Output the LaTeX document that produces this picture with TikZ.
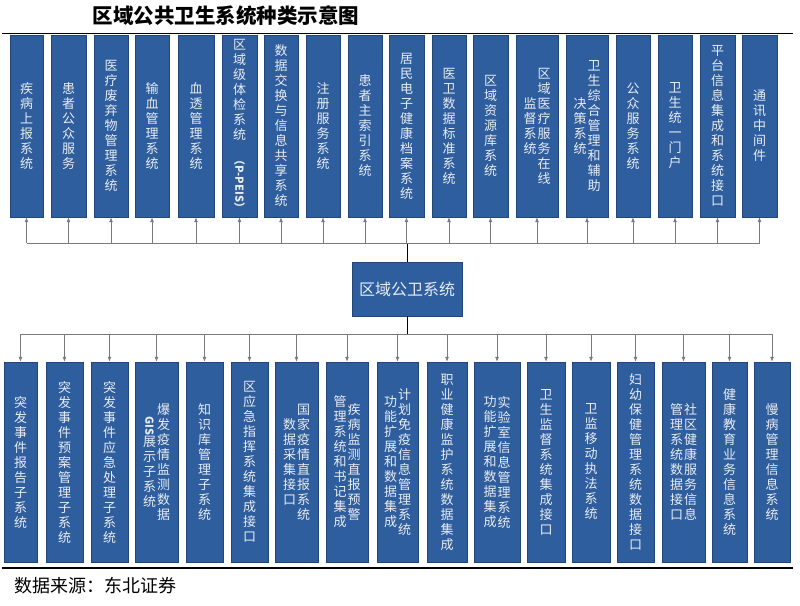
\documentclass[tikz,border=0pt]{standalone}
\usepackage{fontspec}
\setmainfont{Noto Sans CJK SC}
\usepackage{graphicx}
\usetikzlibrary{arrows.meta}

\definecolor{boxblue}{HTML}{2F5E9E}
\definecolor{boxedge}{HTML}{22467A}
\definecolor{boxtext}{HTML}{E8ECF2}
\definecolor{wiregray}{HTML}{7A7A7A}

\def\vcolloop#1{\ifx\relax#1\else\hbox to 1em{\hss#1\hss}\expandafter\vcolloop\fi}
\newcommand\vcol[1]{$\vcenter{\baselineskip=15pt\lineskiplimit=0pt\lineskip=1pt\vcolloop#1\relax}$}
\newcommand\twocol[2]{\vcol{#1}\kern1pt\vcol{#2}}

\begin{document}
\begin{tikzpicture}[x=1pt, y=-1pt, >={Latex[length=5pt,width=4pt]},
    sysbox/.style={draw=boxedge, fill=boxblue, text=boxtext, inner sep=0pt,
        font=\fontsize{13}{15}\selectfont},
    topbox/.style={sysbox, minimum height=182pt, minimum width=#1},
    botbox/.style={sysbox, minimum height=200pt, minimum width=#1},
    wire/.style={draw=wiregray, line width=0.8pt}]
    \useasboundingbox (0,0) rectangle (800,605);

    \node (title) at (226,16) {\fontsize{20.5}{22}\selectfont\bfseries 区域公共卫生系统种类示意图};
    \draw[line width=1.4pt] (2,33.5) -- (793,33.5);
    \draw[line width=1.4pt] (2,568) -- (793,568);
    \node[anchor=west] (src) at (11,586) {\fontsize{18}{20}\selectfont 数据来源：东北证券};

    \node[topbox=33pt] (t1) at (26.5,126) {\vcol{疾病上报系统}};
    \node[topbox=35pt] (t2) at (68.5,126) {\vcol{患者公众服务}};
    \node[topbox=34pt] (t3) at (111,126) {\vcol{医疗废弃物管理系统}};
    \node[topbox=34pt] (t4) at (152,126) {\vcol{输血管理系统}};
    \node[topbox=36pt] (t5) at (196,126) {\vcol{血透管理系统}};
    \node[topbox=35pt] (t6) at (239.5,126) {\vcol{区域级体检系统{\rotatebox{-90}{\fontsize{11}{13}\selectfont\bfseries（P-PEIS）}}}};
    \node[topbox=34pt] (t7) at (281,126) {\vcol{数据交换与信息共享系统}};
    \node[topbox=34pt] (t8) at (323,126) {\vcol{注册服务系统}};
    \node[topbox=34pt] (t9) at (365,126) {\vcol{患者主索引系统}};
    \node[topbox=35pt] (t10) at (406.5,126) {\vcol{居民电子健康档案系统}};
    \node[topbox=34pt] (t11) at (449,126) {\vcol{医卫数据标准系统}};
    \node[topbox=35pt] (t12) at (490.5,126) {\vcol{区域资源库系统}};
    \node[topbox=42pt] (t13) at (537,126) {\twocol{监督系统}{区域医疗服务在线}};
    \node[topbox=42pt] (t14) at (587,126) {\twocol{决策系统}{卫生综合管理和辅助}};
    \node[topbox=34pt] (t15) at (633,126) {\vcol{公众服务系统}};
    \node[topbox=34pt] (t16) at (675,126) {\vcol{卫生统一门户}};
    \node[topbox=35pt] (t17) at (717.5,126) {\vcol{平台信息集成和系统接口}};
    \node[topbox=35pt] (t18) at (759.5,126) {\vcol{通讯中间件}};

    \node[sysbox, minimum width=110pt, minimum height=54pt, font=\fontsize{16}{18}\selectfont] (C) at (407,289) {区域公卫系统};

    \node[botbox=33pt] (b1) at (20.5,462) {\vcol{突发事件报告子系统}};
    \node[botbox=37pt] (b2) at (64.5,462) {\vcol{突发事件预案管理子系统}};
    \node[botbox=37pt] (b3) at (109.5,462) {\vcol{突发事件应急处理子系统}};
    \node[botbox=43pt] (b4) at (156.5,462) {\twocol{{\rotatebox{-90}{\fontsize{11}{13}\selectfont\bfseries GIS}}展示子系统}{爆发疫情监测数据}};
    \node[botbox=37pt] (b5) at (204.5,462) {\vcol{知识库管理子系统}};
    \node[botbox=37pt] (b6) at (249.5,462) {\vcol{区应急指挥系统集成接口}};
    \node[botbox=43pt] (b7) at (296.5,462) {\twocol{数据采集接口}{国家疫情直报系统}};
    \node[botbox=42pt] (b8) at (347,462) {\twocol{管理系统和书记集成}{疾病监测直报预警}};
    \node[botbox=41pt] (b9) at (397.5,462) {\twocol{功能扩展和数据集成}{计划免疫信息管理系统}};
    \node[botbox=40pt] (b10) at (447,462) {\vcol{职业健康监护系统数据集成}};
    \node[botbox=46pt] (b11) at (497,462) {\twocol{功能扩展和数据集成}{实验室信息管理系统}};
    \node[botbox=38pt] (b12) at (546,462) {\vcol{卫生监督系统集成接口}};
    \node[botbox=38pt] (b13) at (591,462) {\vcol{卫监移动执法系统}};
    \node[botbox=37pt] (b14) at (635.5,462) {\vcol{妇幼保健管理系统数据接口}};
    \node[botbox=43pt] (b15) at (683.5,462) {\twocol{管理系统数据接口}{社区健康服务信息}};
    \node[botbox=35pt] (b16) at (729.5,462) {\vcol{健康教育业务信息系统}};
    \node[botbox=36pt] (b17) at (772,462) {\vcol{慢病管理信息系统}};

    \coordinate (tb) at (0,243);
    \coordinate (bb) at (0,334);

    \draw[line width=0.9pt] (C.north) -- (C.north |- tb);
    \draw[line width=0.9pt] (C.south) -- (C.south |- bb);
    \draw[wire] (t1.south |- tb) -- (t18.south |- tb);
    \draw[wire] (b1.north |- bb) -- (b17.north |- bb);

    \draw[wire, ->] (t1.south |- tb) -- (t1.south);
    \draw[wire, ->] (t2.south |- tb) -- (t2.south);
    \draw[wire, ->] (t3.south |- tb) -- (t3.south);
    \draw[wire, ->] (t4.south |- tb) -- (t4.south);
    \draw[wire, ->] (t5.south |- tb) -- (t5.south);
    \draw[wire, ->] (t6.south |- tb) -- (t6.south);
    \draw[wire, ->] (t7.south |- tb) -- (t7.south);
    \draw[wire, ->] (t8.south |- tb) -- (t8.south);
    \draw[wire, ->] (t9.south |- tb) -- (t9.south);
    \draw[wire, ->] (t10.south |- tb) -- (t10.south);
    \draw[wire, ->] (t11.south |- tb) -- (t11.south);
    \draw[wire, ->] (t12.south |- tb) -- (t12.south);
    \draw[wire, ->] (t13.south |- tb) -- (t13.south);
    \draw[wire, ->] (t14.south |- tb) -- (t14.south);
    \draw[wire, ->] (t15.south |- tb) -- (t15.south);
    \draw[wire, ->] (t16.south |- tb) -- (t16.south);
    \draw[wire, ->] (t17.south |- tb) -- (t17.south);
    \draw[wire, ->] (t18.south |- tb) -- (t18.south);

    \draw[wire, ->] (b1.north |- bb) -- (b1.north);
    \draw[wire, ->] (b2.north |- bb) -- (b2.north);
    \draw[wire, ->] (b3.north |- bb) -- (b3.north);
    \draw[wire, ->] (b4.north |- bb) -- (b4.north);
    \draw[wire, ->] (b5.north |- bb) -- (b5.north);
    \draw[wire, ->] (b6.north |- bb) -- (b6.north);
    \draw[wire, ->] (b7.north |- bb) -- (b7.north);
    \draw[wire, ->] (b8.north |- bb) -- (b8.north);
    \draw[wire, ->] (b9.north |- bb) -- (b9.north);
    \draw[wire, ->] (b10.north |- bb) -- (b10.north);
    \draw[wire, ->] (b11.north |- bb) -- (b11.north);
    \draw[wire, ->] (b12.north |- bb) -- (b12.north);
    \draw[wire, ->] (b13.north |- bb) -- (b13.north);
    \draw[wire, ->] (b14.north |- bb) -- (b14.north);
    \draw[wire, ->] (b15.north |- bb) -- (b15.north);
    \draw[wire, ->] (b16.north |- bb) -- (b16.north);
    \draw[wire, ->] (b17.north |- bb) -- (b17.north);
\end{tikzpicture}
\end{document}
